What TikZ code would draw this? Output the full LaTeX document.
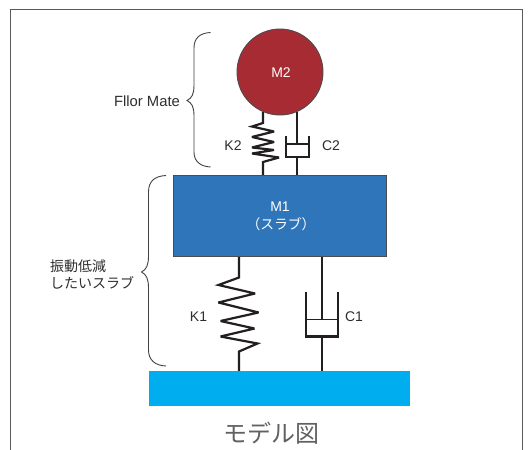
\documentclass[tikz,border=0pt]{standalone}
\usepackage{fontspec}
\setmainfont{Liberation Sans}
\newfontfamily\jpfont{Noto Sans CJK JP}
\definecolor{txtc}{HTML}{2E2E2E}
\definecolor{massred}{HTML}{A62B33}
\definecolor{massblue}{HTML}{2E75BA}
\definecolor{groundc}{HTML}{00AEEF}
\definecolor{linec}{HTML}{231F20}
\tikzset{
  x=1pt,y=-1pt,
  mech/.style={draw=linec,line width=2.2pt,miter limit=4},
  bracec/.style={draw=linec!85,line width=0.9pt},
  lbl/.style={text=txtc,font=\fontsize{14}{16}\selectfont,inner sep=0pt},
  wlbl/.style={text=white,font=\fontsize{14}{16}\selectfont,inner sep=0pt},
  jplbl/.style={text=txtc,font=\jpfont\fontsize{14}{17}\selectfont,inner sep=0pt,align=left,anchor=west},
  massbox/.style={draw=linec!80,line width=0.9pt,fill=massblue,minimum width=213pt,minimum height=81pt,inner sep=0pt},
  massball/.style={circle,draw=linec!80,line width=0.9pt,fill=massred,minimum size=86pt,inner sep=0pt},
  groundbox/.style={fill=groundc,minimum width=261pt,minimum height=35pt,inner sep=0pt}
}
\begin{document}
\begin{tikzpicture}
\useasboundingbox (0,0) rectangle (528,450);
\fill[white] (0,0) rectangle (528,450);
\draw[draw=black!65,line width=0.9pt] (10.5,450) -- (10.5,9.7) -- (522.7,9.7) -- (522.7,450);

% anchors
\coordinate (k2top) at (263,112);
\coordinate (k2bot) at (263,176);
\coordinate (c2top) at (297,112);
\coordinate (c2bot) at (297,176);
\coordinate (k1top) at (239,256);
\coordinate (k1bot) at (239,371);
\coordinate (c1top) at (322,256);
\coordinate (c1bot) at (322,371);

% upper spring + damper
\draw[mech] (k2top) -- (263,123) -- (252,126.5) -- (274,131.5) -- (252,137) -- (274,142) -- (252,147.5) -- (274,150) -- (252,153.5) -- (279,157.5) -- (263,162) -- (k2bot);
\draw[mech] (c2top) -- (297,144);
\draw[mech] (286,136) -- (286,157) -- (309,157) -- (309,136);
\draw[mech,line width=1.6pt] (286,144) -- (309,144);
\draw[mech] (297,157) -- (c2bot);

% lower spring + damper
\draw[mech] (k1top) -- (239,277.5) -- (218.5,285) -- (255,293.5) -- (218.5,302.5) -- (258.5,312.5) -- (220.5,321) -- (254.5,328.5) -- (220.5,336.5) -- (257.5,343.5) -- (239,351.5) -- (k1bot);
\draw[mech] (c1top) -- (322,319);
\draw[mech] (306,292) -- (306,336.5) -- (338,336.5) -- (338,292);
\draw[mech,line width=1.6pt] (306,319.5) -- (338,319.5);
\draw[mech] (322,337) -- (c1bot);

% masses
\node[massball] (m2) at (280,72) {};
\node[wlbl] (m2t) at (281,72.5) {M2};
\node[massbox] (m1) at (279.5,216) {};
\node[wlbl] (m1t) at (280,207) {M1};
\node[text=white,font=\jpfont\fontsize{13.8}{16}\selectfont,inner sep=0pt] (m1s) at (281,224.5) {（スラブ）};
\node[groundbox] (gnd) at (279.5,388.5) {};

% labels
\node[lbl] (k2l) at (233,146) {K2};
\node[lbl] (c2l) at (331,146) {C2};
\node[lbl] (k1l) at (198.5,317) {K1};
\node[lbl] (c1l) at (354,317) {C1};
\node[lbl,font=\fontsize{14.8}{17}\selectfont] (fm) at (147,101.5) {Fllor Mate};
\node[jplbl] (jp) at (50,274.5) {振動低減\\したいスラブ};
\node[text=black!62,font=\jpfont\fontsize{24}{28}\selectfont,inner sep=0pt] (cap) at (271,433) {モデル図};

% braces
\draw[bracec] (210.5,32.5) .. controls (200,33) and (194,38) .. (194,48) -- (194,85)
  .. controls (194,94) and (192,98) .. (187,100.5)
  .. controls (192,103) and (194,107) .. (194,116) -- (194,152)
  .. controls (194,161) and (200,166.5) .. (210.5,167);
\draw[bracec] (166,175.5) .. controls (155,176) and (148.5,181) .. (148.5,192) -- (148.5,256)
  .. controls (148.5,265) and (146.5,269.5) .. (141.5,272)
  .. controls (146.5,274.5) and (148.5,279) .. (148.5,288) -- (148.5,350)
  .. controls (148.5,360) and (155,365.5) .. (166,366);
\end{tikzpicture}
\end{document}
